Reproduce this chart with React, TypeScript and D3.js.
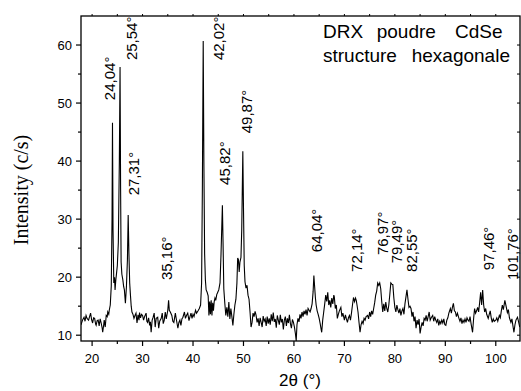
import React from "react";
import * as d3 from "d3";

const twoTheta: number[] = [
  17.8, 18.1, 18.4, 18.6, 18.8, 19.0, 19.3, 19.5, 19.7, 19.9, 20.1, 20.3, 20.5, 20.7, 20.8, 21.0, 21.2, 21.4, 21.6, 21.8,
  22.0, 22.1, 22.3, 22.4, 22.6, 22.8, 23.0, 23.1, 23.3, 23.4, 23.6, 23.8, 23.95, 24.04, 24.15, 24.3, 24.45, 24.55, 24.7, 24.8,
  25.0, 25.2, 25.4, 25.54, 25.65, 25.75, 25.9, 26.1, 26.25, 26.4, 26.6, 26.8, 27.0, 27.15, 27.3, 27.45, 27.6, 27.75, 27.9, 28.1,
  28.3, 28.5, 28.7, 28.9, 29.1, 29.3, 29.4, 29.6, 29.8, 30.0, 30.2, 30.4, 30.7, 30.85, 31.0, 31.2, 31.4, 31.55, 31.7, 31.9,
  32.1, 32.3, 32.5, 32.7, 33.0, 33.2, 33.4, 33.7, 33.9, 34.1, 34.3, 34.5, 34.7, 35.0, 35.16, 35.3, 35.5, 35.8, 36.0, 36.2,
  36.5, 36.7, 37.0, 37.2, 37.4, 37.6, 37.8, 38.0, 38.3, 38.5, 38.7, 38.95, 39.2, 39.4, 39.6, 39.8, 40.0, 40.2, 40.5, 40.7,
  41.0, 41.25, 41.5, 41.7, 41.85, 42.02, 42.15, 42.3, 42.45, 42.6, 42.8, 43.0, 43.15, 43.3, 43.45, 43.6, 43.75, 43.9, 44.05, 44.2,
  44.35, 44.5, 44.7, 44.9, 45.1, 45.35, 45.55, 45.82, 45.95, 46.1, 46.3, 46.5, 46.7, 46.9, 47.1, 47.3, 47.5, 47.7, 47.9, 48.1,
  48.3, 48.5, 48.7, 48.85, 49.0, 49.15, 49.3, 49.5, 49.65, 49.87, 50.0, 50.15, 50.3, 50.5, 50.7, 50.9, 51.1, 51.3, 51.5, 51.7,
  51.9, 52.1, 52.3, 52.5, 52.7, 52.9, 53.1, 53.3, 53.5, 53.7, 53.9, 54.1, 54.3, 54.5, 54.7, 54.9, 55.1, 55.3, 55.5, 55.7,
  55.9, 56.1, 56.3, 56.5, 56.7, 56.9, 57.1, 57.3, 57.5, 57.7, 57.9, 58.1, 58.3, 58.5, 58.7, 58.9, 59.1, 59.3, 59.5, 59.7,
  59.9, 60.1, 60.3, 60.45, 60.6, 60.8, 61.0, 61.2, 61.4, 61.6, 61.8, 62.0, 62.2, 62.4, 62.6, 62.8, 63.0, 63.2, 63.4, 63.6,
  63.8, 63.95, 64.1, 64.25, 64.4, 64.6, 64.8, 65.0, 65.2, 65.35, 65.5, 65.7, 65.9, 66.1, 66.3, 66.5, 66.7, 66.9, 67.1, 67.3,
  67.5, 67.7, 67.9, 68.0, 68.2, 68.4, 68.6, 68.8, 69.0, 69.3, 69.5, 69.7, 70.0, 70.2, 70.4, 70.6, 70.8, 71.0, 71.2, 71.4,
  71.6, 71.8, 72.0, 72.2, 72.35, 72.5, 72.7, 72.9, 73.1, 73.3, 73.5, 73.7, 73.9, 74.1, 74.3, 74.6, 74.8, 75.0, 75.2, 75.4,
  75.6, 75.8, 76.0, 76.2, 76.4, 76.6, 76.8, 77.0, 77.2, 77.4, 77.6, 77.8, 78.0, 78.2, 78.4, 78.6, 78.8, 79.0, 79.2, 79.4,
  79.6, 79.8, 80.0, 80.2, 80.4, 80.6, 80.8, 81.0, 81.2, 81.4, 81.6, 81.8, 82.0, 82.2, 82.4, 82.6, 82.8, 83.0, 83.2, 83.4,
  83.6, 83.8, 84.0, 84.2, 84.4, 84.6, 84.8, 85.0, 85.2, 85.4, 85.6, 85.8, 86.0, 86.2, 86.4, 86.6, 86.8, 87.0, 87.2, 87.5,
  87.7, 87.9, 88.1, 88.3, 88.5, 88.7, 88.9, 89.1, 89.3, 89.5, 89.7, 89.9, 90.1, 90.3, 90.5, 90.7, 91.0, 91.2, 91.4, 91.6,
  91.8, 92.0, 92.2, 92.4, 92.7, 92.9, 93.1, 93.3, 93.5, 93.7, 93.9, 94.1, 94.3, 94.5, 94.7, 94.9, 95.1, 95.4, 95.6, 95.8,
  96.0, 96.2, 96.4, 96.6, 96.8, 97.0, 97.2, 97.4, 97.6, 97.8, 98.0, 98.2, 98.5, 98.7, 98.9, 99.1, 99.3, 99.5, 99.7, 100.0,
  100.2, 100.4, 100.7, 100.9, 101.1, 101.3, 101.5, 101.8, 102.0, 102.3, 102.5, 102.7, 103.0, 103.2, 103.4, 103.6, 103.8, 104.0, 104.3, 104.5,
  104.75,
];

const intensity: number[] = [
  11.8, 12.6, 13.1, 12.4, 13.4, 12.9, 12.6, 13.2, 13.8, 12.7, 12.1, 13.0, 12.9, 11.9, 11.7, 12.5, 12.6, 11.6, 12.8, 12.1,
  11.2, 10.5, 11.8, 12.6, 11.4, 13.4, 13.2, 14.0, 13.6, 14.3, 15.2, 18.5, 30.0, 46.6, 28.0, 19.0, 20.0, 17.8, 19.5, 20.3,
  22.0, 26.0, 40.0, 56.2, 35.0, 22.6, 20.5, 19.5, 18.4, 17.8, 15.5, 18.3, 23.0, 30.7, 24.0, 19.0, 16.9, 15.0, 14.0, 13.6,
  12.9, 13.4, 13.8, 12.1, 13.5, 12.6, 13.9, 13.0, 13.6, 13.4, 12.6, 13.2, 13.8, 12.4, 12.2, 13.0, 11.7, 12.3, 10.5, 12.6,
  13.1, 13.8, 11.4, 12.9, 13.1, 11.2, 12.4, 12.9, 13.8, 12.0, 12.6, 14.0, 12.8, 14.3, 16.0, 14.3, 14.0, 13.4, 12.4, 12.2,
  13.8, 12.7, 11.2, 12.2, 12.6, 11.7, 12.8, 13.1, 14.0, 12.9, 13.4, 13.8, 12.5, 13.2, 13.8, 12.9, 13.6, 13.2, 14.3, 13.8,
  14.2, 14.6, 15.2, 19.0, 35.0, 60.7, 40.0, 24.0, 19.5, 17.8, 17.4, 16.8, 13.4, 15.8, 13.6, 16.0, 13.4, 15.6, 14.2, 15.8,
  16.4, 16.0, 17.0, 17.4, 17.8, 19.0, 24.0, 32.4, 26.0, 18.0, 15.5, 13.4, 14.8, 13.2, 15.7, 12.8, 14.6, 13.2, 11.7, 13.6,
  15.2, 16.2, 19.0, 23.3, 23.0, 20.9, 22.6, 23.4, 28.0, 41.7, 32.0, 22.0, 19.2, 18.1, 18.6, 16.9, 16.2, 14.0, 11.4, 12.2,
  13.8, 13.2, 14.1, 13.4, 12.2, 12.9, 11.6, 13.0, 12.2, 11.4, 13.3, 12.4, 12.8, 11.6, 13.2, 12.0, 12.9, 11.8, 13.6, 12.4,
  13.9, 12.3, 12.8, 11.3, 13.4, 12.6, 11.8, 13.5, 12.2, 12.8, 11.0, 12.6, 13.2, 11.6, 12.9, 12.1, 13.5, 12.0, 11.2, 12.7,
  12.2, 11.4, 10.2, 9.0, 11.8, 12.9, 12.3, 13.6, 12.9, 14.0, 13.2, 14.2, 13.6, 14.4, 13.4, 14.6, 14.3, 14.0, 14.6, 15.4,
  17.5, 20.3, 18.4, 16.5, 15.2, 14.2, 13.6, 12.9, 12.0, 11.2, 10.5, 12.6, 14.0, 15.4, 16.9, 15.8, 17.4, 15.2, 16.0, 14.8,
  16.4, 15.4, 16.9, 16.6, 14.6, 15.2, 12.9, 13.6, 14.2, 14.8, 13.2, 13.8, 12.6, 13.5, 12.8, 12.2, 13.0, 13.4, 12.6, 13.8,
  15.2, 16.5, 15.8, 16.4, 16.0, 15.2, 14.0, 12.2, 10.5, 11.8, 12.4, 12.0, 12.9, 12.6, 13.2, 13.4, 12.8, 14.0, 13.2, 14.2,
  13.6, 14.6, 15.6, 16.9, 17.6, 19.0, 18.6, 19.0, 18.0, 15.8, 14.0, 15.4, 14.2, 15.7, 14.6, 14.0, 15.2, 17.0, 19.0, 18.8,
  18.7, 16.4, 14.8, 14.0, 15.2, 14.4, 13.8, 14.6, 13.4, 14.2, 14.6, 13.6, 15.4, 16.6, 17.8, 16.2, 14.8, 15.0, 14.6, 13.2,
  14.0, 12.4, 13.2, 11.2, 12.6, 11.8, 12.8, 10.3, 11.4, 12.2, 11.6, 12.9, 12.6, 13.4, 12.4, 13.2, 14.0, 12.6, 13.0, 13.4,
  12.4, 13.2, 12.6, 12.2, 12.8, 11.7, 12.4, 12.0, 12.6, 12.1, 12.8, 11.8, 11.7, 12.6, 13.0, 13.8, 14.6, 13.8, 14.8, 15.5,
  14.2, 14.0, 13.2, 13.8, 12.9, 12.4, 13.0, 12.0, 12.6, 12.2, 12.8, 12.2, 13.0, 12.6, 12.4, 13.2, 12.0, 10.5, 12.8, 14.6,
  13.8, 14.2, 14.8, 14.0, 15.6, 17.4, 15.2, 17.8, 15.2, 14.0, 14.6, 13.6, 12.9, 13.6, 14.2, 13.0, 12.2, 12.8, 12.4, 12.6,
  13.0, 12.4, 13.4, 13.0, 14.2, 15.2, 14.4, 16.0, 15.2, 13.9, 14.4, 13.0, 12.2, 12.8, 11.6, 10.5, 11.8, 12.6, 13.1, 12.4,
  11.4,
];

const peakLabels: string[] = [
  "24,04°", "25,54°", "27,31°", "35,16°", "42,02°", "45,82°", "49,87°",
  "64,04°", "72,14°", "76,97°", "79,49°", "82,55°", "97,46°", "101,76°",
];
const peakLabelAt: number[] = [23.56, 27.86, 28.18, 34.85, 45.0, 46.34, 50.63, 64.49, 72.4, 77.56, 80.33, 83.3, 98.48, 103.3];
const peakLabelBase: number[] = [50.5, 57.4, 34.1, 19.5, 57.4, 35.9, 44.8, 24.3, 20.9, 23.8, 22.4, 20.9, 21.2, 19.5];

const xTicks: number[] = [20, 30, 40, 50, 60, 70, 80, 90, 100];
const xMinorTicks: number[] = [25, 35, 45, 55, 65, 75, 85, 95];
const yTicks: number[] = [10, 20, 30, 40, 50, 60];
const yMinorTicks: number[] = [15, 25, 35, 45, 55];

const xTitle = "2θ (°)";
const yTitle = "Intensity (c/s)";
const noteLine1: string[] = ["DRX", "poudre", "CdSe"];
const noteLine2: string[] = ["structure", "hexagonale"];

export default function App() {
  const W = 521, H = 391;
  const L = 81, R = 520, T = 16, B = 341;
  const x = d3.scaleLinear().domain([17.8, 104.8]).range([L, R]);
  const y = d3.scaleLinear().domain([9, 65]).range([B, T]);
  const pts = twoTheta.map((t, i) => [t, intensity[i]] as [number, number]);
  const line = d3.line<[number, number]>().x((d) => x(d[0])).y((d) => y(d[1]));
  const sans = "'Liberation Sans', Arial, sans-serif";
  const serif = "'Liberation Serif', 'Times New Roman', serif";
  const allX = [...xTicks, ...xMinorTicks];
  const allY = [...yTicks, ...yMinorTicks];
  const l1x = [323, 376.7, 455];
  const l2x = [323, 411.7];
  return (
    <svg width={W} height={H} style={{ position: "absolute", left: 0, top: 0, background: "#fff" }}>
      <defs>
        <clipPath id="plot">
          <rect x={L} y={T} width={R - L} height={B - T + 1} />
        </clipPath>
      </defs>
      <rect x={0} y={0} width={W} height={H} fill="#fff" />
      <path d={line(pts) || ""} fill="none" stroke="#000" strokeWidth={1.1} clipPath="url(#plot)" strokeLinejoin="miter" />
      {/* frame */}
      <rect x={L} y={T} width={R - L} height={B - T} fill="none" stroke="#000" strokeWidth={1.3} />
      {/* bottom ticks */}
      {xTicks.map((v) => (
        <line key={"xb" + v} x1={x(v)} x2={x(v)} y1={B} y2={B + 5} stroke="#000" strokeWidth={1.2} />
      ))}
      {xMinorTicks.map((v) => (
        <line key={"xbm" + v} x1={x(v)} x2={x(v)} y1={B} y2={B + 3} stroke="#000" strokeWidth={1.2} />
      ))}
      {/* top ticks */}
      {allX.map((v) => (
        <line key={"xt" + v} x1={x(v)} x2={x(v)} y1={T} y2={T - 2} stroke="#000" strokeWidth={1} />
      ))}
      {/* left ticks */}
      {yTicks.map((v) => (
        <line key={"yl" + v} x1={L} x2={L - 5} y1={y(v)} y2={y(v)} stroke="#000" strokeWidth={1.2} />
      ))}
      {yMinorTicks.map((v) => (
        <line key={"ylm" + v} x1={L} x2={L - 3} y1={y(v)} y2={y(v)} stroke="#000" strokeWidth={1.2} />
      ))}
      {/* right ticks */}
      {allY.map((v) => (
        <line key={"yr" + v} x1={R} x2={R - 3} y1={y(v)} y2={y(v)} stroke="#000" strokeWidth={1} />
      ))}
      {/* tick labels */}
      {xTicks.map((v) => (
        <text key={"xl" + v} x={x(v)} y={363} textAnchor="middle" fontFamily={sans} fontSize={13} fill="#000">
          {v}
        </text>
      ))}
      {yTicks.map((v) => (
        <text key={"ylb" + v} x={72} y={y(v) + 4.5} textAnchor="end" fontFamily={sans} fontSize={13} fill="#000">
          {v}
        </text>
      ))}
      {/* axis titles */}
      <text x={300} y={386} textAnchor="middle" fontFamily={sans} fontSize={17} fill="#000">
        {xTitle}
      </text>
      <text transform={`translate(28,190) rotate(-90)`} textAnchor="middle" fontFamily={serif} fontSize={20} fill="#000">
        {yTitle}
      </text>
      {/* peak labels */}
      {peakLabels.map((s, i) => (
        <text
          key={"pk" + i}
          transform={`translate(${x(peakLabelAt[i])},${y(peakLabelBase[i])}) rotate(-90)`}
          dy="0.36em"
          fontFamily={sans}
          fontSize={15}
          fill="#000"
        >
          {s}
        </text>
      ))}
      {/* note */}
      {noteLine1.map((w, i) => (
        <text key={"n1" + i} x={l1x[i]} y={38} fontFamily={sans} fontSize={19} fill="#000">
          {w}
        </text>
      ))}
      {noteLine2.map((w, i) => (
        <text key={"n2" + i} x={l2x[i]} y={62} fontFamily={sans} fontSize={19} fill="#000">
          {w}
        </text>
      ))}
    </svg>
  );
}
